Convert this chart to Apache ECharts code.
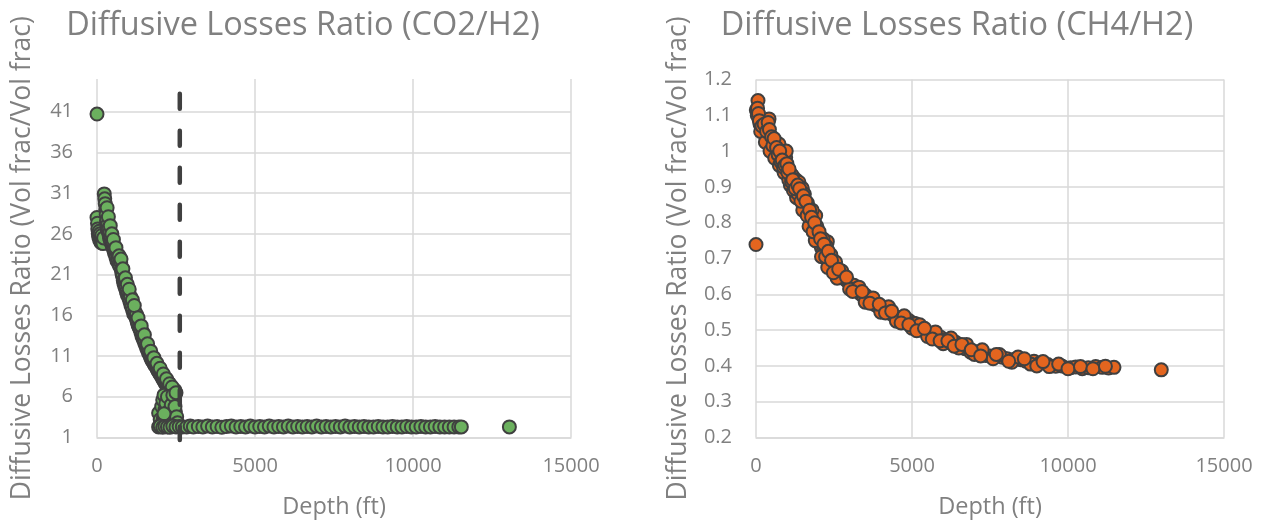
<!DOCTYPE html>
<html>
<head>
<meta charset="utf-8">
<script src="https://cdn.jsdelivr.net/npm/echarts@6/dist/echarts.min.js"></script>
<style>
  html, body { margin: 0; padding: 0; background: #ffffff; }
  #chart { width: 1265px; height: 523px; }
</style>
</head>
<body>
<div id="chart"></div>
<script>
// Diffusive losses ratio vs. depth: CO2/H2 (left) and CH4/H2 (right)

const titles = ['Diffusive Losses Ratio (CO2/H2)', 'Diffusive Losses Ratio (CH4/H2)'];
const xAxisName = 'Depth (ft)';
const yAxisName = 'Diffusive Losses Ratio (Vol frac/Vol frac)';

// [depth ft, CO2/H2 ratio]
const co2h2 = [
  [0, 40.7],
  [0, 28.0], [15, 27.3], [25, 26.6], [40, 26.0], [55, 25.6], [70, 26.3], [85, 25.2],
  [100, 26.0], [115, 25.4], [130, 24.9], [150, 25.8], [170, 25.1], [190, 24.8], [210, 25.5],
  [230, 30.9], [245, 30.3], [260, 29.7], [275, 29.0], [290, 28.4], [300, 27.6], [315, 26.9],
  [330, 26.4], [345, 27.2], [360, 26.6], [380, 25.9], [395, 25.5], [410, 26.2], [430, 25.0],
  [450, 25.6], [470, 24.7], [490, 24.4], [510, 24.9], [530, 24.0], [555, 23.6], [580, 23.9],
  [600, 23.1], [630, 22.7], [660, 22.9], [690, 22.3], [720, 22.0], [750, 22.5], [770, 21.6],
  [790, 21.1], [810, 20.8], [830, 20.3], [850, 19.9], [875, 19.6], [900, 19.3], [930, 18.9],
  [960, 18.5], [990, 18.8], [1010, 18.1], [1040, 17.7], [1070, 17.3], [1100, 17.0], [1130, 16.6],
  [1160, 16.2], [1190, 16.0], [1210, 16.4], [1240, 15.6], [1270, 15.2], [1300, 14.8], [1330, 14.5],
  [1360, 14.3], [1390, 13.9], [1420, 13.5], [1450, 13.2], [1480, 12.9], [1510, 12.6], [1540, 12.3],
  [1570, 12.0], [1600, 11.7], [1630, 11.4], [1660, 11.2], [1690, 10.9], [1720, 10.6], [1750, 10.4],
  [1780, 10.2], [1810, 10.0], [1840, 9.8], [1870, 9.7], [1900, 9.4], [1930, 9.2], [1960, 9.0],
  [1990, 8.8], [2020, 8.6], [2050, 8.5], [2080, 8.2], [2110, 8.0], [2140, 7.8], [2170, 7.6],
  [2200, 7.4], [2230, 7.2], [2260, 7.0], [2290, 6.9], [2320, 6.7], [2400, 6.6], [2468, 6.8],
  [650, 23.5], [880, 20.4], [1060, 18.3], [1250, 16.1], [1450, 13.9], [1650, 11.8], [1850, 10.3],
  [2050, 9.0], [2250, 7.8],
  [320, 29.2], [360, 28.1], [420, 27.0], [470, 26.0], [520, 25.3], [600, 24.3], [700, 23.3],
  [760, 22.9], [820, 21.7], [900, 20.6], [960, 19.8], [1020, 19.2], [1120, 17.9], [1180, 17.2],
  [1300, 15.7], [1400, 14.7], [1500, 13.6], [1600, 12.5], [1700, 11.6], [1800, 10.8], [1900, 10.1],
  [2000, 9.5], [2100, 8.8], [2200, 8.2], [2300, 7.6], [2380, 7.2], [2450, 5.8], [2480, 4.2],
  [1950, 4.0], [2000, 3.2], [2047, 4.8], [2080, 5.6], [2100, 3.4], [2120, 6.2], [2150, 4.4],
  [2180, 5.2], [2200, 2.9], [2230, 6.0], [2260, 4.1], [2310, 4.4], [2350, 5.0], [2400, 6.2],
  [2430, 3.8], [2468, 4.8], [2500, 6.5], [2521, 3.55], [2550, 2.8], [2050, 2.7], [2120, 3.9],
  [1950, 2.3], [2000, 2.4], [2080, 2.25], [2150, 2.35], [2230, 2.3], [2310, 2.25], [2400, 2.4],
  [2500, 2.3], [2600, 2.35], [2700, 2.3], [2838, 2.3], [2950, 2.4], [3050, 2.3], [3206, 2.35],
  [3350, 2.3], [3500, 2.4], [3650, 2.3], [3800, 2.35], [3950, 2.25], [4100, 2.35], [4250, 2.4],
  [4400, 2.3], [4550, 2.35], [4700, 2.3], [4850, 2.4], [5000, 2.3], [5150, 2.35], [5300, 2.3],
  [5450, 2.4], [5600, 2.3], [5750, 2.35], [5900, 2.3], [6050, 2.4], [6200, 2.3], [6350, 2.35],
  [6500, 2.3], [6650, 2.35], [6800, 2.3], [6950, 2.4], [7100, 2.3], [7250, 2.35], [7400, 2.3],
  [7550, 2.35], [7700, 2.3], [7850, 2.4], [8000, 2.3], [8150, 2.35], [8300, 2.3], [8450, 2.35],
  [8600, 2.3], [8750, 2.3], [8900, 2.35], [9050, 2.3], [9200, 2.3], [9350, 2.35], [9500, 2.3],
  [9650, 2.3], [9800, 2.35], [9950, 2.3], [10100, 2.3], [10250, 2.35], [10400, 2.3], [10550, 2.3],
  [10700, 2.35], [10850, 2.3], [11000, 2.3], [11150, 2.3], [11300, 2.3], [11450, 2.3], [11530, 2.3],
  [13050, 2.3]
];

// [depth ft, CH4/H2 ratio]
const ch4h2 = [
  [0, 0.739],
  [10, 1.115], [64, 1.141], [96, 1.09], [40, 1.10], [130, 1.075], [170, 1.08], [200, 1.06],
  [240, 1.065], [280, 1.05], [320, 1.04], [362, 1.067], [417, 1.09], [450, 1.045], [480, 1.025],
  [522, 1.03], [560, 1.01], [600, 1.02], [640, 0.995], [690, 1.005], [737, 1.02], [780, 0.98],
  [820, 0.99], [860, 0.965], [900, 0.975], [952, 0.983], [969, 1.0], [1000, 0.95], [1040, 0.945],
  [1080, 0.93], [1120, 0.935], [1164, 0.932], [1200, 0.91], [1240, 0.905], [1280, 0.92],
  [1320, 0.895], [1378, 0.913], [1420, 0.88], [1460, 0.87], [1484, 0.896], [1538, 0.859],
  [1580, 0.85], [1620, 0.845], [1660, 0.83], [1700, 0.82], [1753, 0.806], [1800, 0.80],
  [1850, 0.79], [1913, 0.82], [1950, 0.77], [1966, 0.764], [2000, 0.75], [2050, 0.74],
  [2100, 0.73], [2150, 0.72], [2200, 0.715], [2286, 0.747], [2286, 0.708], [2350, 0.695],
  [2394, 0.687], [2446, 0.68], [2500, 0.672], [2560, 0.665], [2620, 0.66], [2680, 0.655],
  [2740, 0.65], [2800, 0.645], [2853, 0.643], [2920, 0.637], [2990, 0.63], [3060, 0.625],
  [3141, 0.625], [3200, 0.615], [3280, 0.607], [3360, 0.60], [3440, 0.595], [3516, 0.597],
  [3600, 0.588], [3700, 0.58], [3800, 0.572], [3900, 0.566], [4000, 0.56], [4100, 0.556],
  [4208, 0.555], [4300, 0.547], [4420, 0.54], [4550, 0.535], [4680, 0.53], [4800, 0.525],
  [4904, 0.527], [5000, 0.515], [5064, 0.519], [5118, 0.518], [5200, 0.505], [5320, 0.50],
  [5450, 0.497], [5560, 0.49], [5680, 0.485], [5800, 0.48], [5920, 0.48], [6050, 0.472],
  [6200, 0.465], [6400, 0.466], [6550, 0.455], [6700, 0.448], [6881, 0.438], [7000, 0.44],
  [7150, 0.435], [7361, 0.429], [7500, 0.428], [7650, 0.425], [7895, 0.424], [8050, 0.42],
  [8250, 0.418], [8484, 0.417], [8650, 0.413], [8910, 0.413], [9100, 0.408], [9350, 0.404],
  [9606, 0.399], [9800, 0.40], [10087, 0.395], [10250, 0.397], [10458, 0.392], [10650, 0.395],
  [10888, 0.398], [11100, 0.396], [11300, 0.394], [11474, 0.396],
  [1100, 0.905], [1300, 0.87], [1500, 0.835], [1700, 0.79], [1900, 0.75], [2100, 0.705],
  [2300, 0.675], [2600, 0.645], [3000, 0.615], [3500, 0.578], [4000, 0.55], [4500, 0.525],
  [5000, 0.505], [5500, 0.482], [6000, 0.462], [6500, 0.45], [7000, 0.432], [7600, 0.42],
  [8200, 0.41], [8800, 0.405], [9400, 0.398],
  [150, 1.055], [300, 1.025], [450, 1.0], [600, 0.98], [750, 0.96], [900, 0.94], [1050, 0.92],
  [1200, 0.89], [1350, 0.88], [1550, 0.88], [1650, 0.855], [1800, 0.835], [1950, 0.79],
  [2150, 0.755], [2250, 0.735], [2400, 0.71], [2550, 0.69], [2750, 0.665], [3300, 0.62],
  [3750, 0.59], [4250, 0.565], [4750, 0.54], [5250, 0.515], [5750, 0.495], [6250, 0.478],
  [6750, 0.46], [7250, 0.445], [7800, 0.432], [8400, 0.425],
  [50, 1.12], [80, 1.105], [110, 1.085], [190, 1.07], [260, 1.075], [340, 1.055], [390, 1.08],
  [430, 1.06], [500, 1.04], [540, 1.015], [580, 1.035], [660, 1.01], [710, 0.99], [760, 1.0],
  [800, 0.97], [840, 0.975], [880, 0.955], [930, 0.96], [990, 0.965], [1020, 0.94], [1060, 0.95],
  [1140, 0.915], [1180, 0.92], [1260, 0.895], [1340, 0.905], [1400, 0.895], [1440, 0.86],
  [1520, 0.875], [1600, 0.86], [1640, 0.82], [1720, 0.835], [1780, 0.815], [1830, 0.775],
  [1880, 0.80], [2020, 0.775], [2070, 0.755], [2180, 0.74], [2230, 0.705], [2320, 0.72],
  [2420, 0.695], [2480, 0.66], [2650, 0.67], [2900, 0.648], [3100, 0.608], [3400, 0.608],
  [3650, 0.575], [3950, 0.572], [4150, 0.548], [4350, 0.553], [4650, 0.52], [4900, 0.515],
  [5150, 0.498], [5400, 0.505], [5650, 0.475], [5900, 0.47], [6150, 0.47], [6350, 0.455],
  [6600, 0.46], [6900, 0.445], [7200, 0.428], [7700, 0.432], [8100, 0.413], [8600, 0.42],
  [9000, 0.40], [9200, 0.412], [9700, 0.405], [10000, 0.392], [10400, 0.398], [10800, 0.392],
  [11200, 0.399],
  [12990, 0.389]
];

// vertical dashed marker on the CO2/H2 panel
const markerDepth = 2620;
const markerSpan = [43.2, 0.7];

const textGray = '#808080';
const gridGray = '#d9d9d9';
const fontFamily = '"Open Sans", "Noto Sans", sans-serif';

function xAxisFor(gridIndex) {
  return {
    gridIndex: gridIndex, type: 'value', min: 0, max: 15000, interval: 5000,
    name: xAxisName, nameLocation: 'middle', nameGap: 58,
    nameTextStyle: { color: textGray, fontSize: 23.5, fontFamily: fontFamily },
    axisLine: { show: true, lineStyle: { color: gridGray, width: 1.5 } },
    axisTick: { show: false },
    axisLabel: { color: textGray, fontSize: 20, fontFamily: fontFamily, margin: 19,
                 formatter: function (v) { return String(v); } },
    splitLine: { show: true, lineStyle: { color: gridGray, width: 1.5 } }
  };
}

function yAxisFor(gridIndex, min, max, interval, gap, margin, hideTop) {
  return {
    gridIndex: gridIndex, type: 'value', min: min, max: max, interval: interval,
    name: yAxisName, nameLocation: 'middle', nameGap: gap, nameRotate: 90,
    nameTextStyle: { color: textGray, fontSize: 26.5, fontFamily: fontFamily },
    axisLine: { show: false },
    axisTick: { show: false },
    axisLabel: { color: textGray, fontSize: 20, fontFamily: fontFamily, margin: margin,
                 showMaxLabel: !hideTop },
    splitLine: { show: true, showMaxLine: !hideTop, lineStyle: { color: gridGray, width: 1.5 } }
  };
}

function scatterSeries(idx, data, fill) {
  return {
    type: 'scatter', xAxisIndex: idx, yAxisIndex: idx, data: data,
    symbol: 'circle', symbolSize: 13,
    itemStyle: { color: fill, borderColor: '#404040', borderWidth: 2, opacity: 1 },
    emphasis: { disabled: true }
  };
}

const chart = echarts.init(document.getElementById('chart'), null, { renderer: 'canvas' });
chart.setOption({
  animation: false,
  backgroundColor: '#ffffff',
  title: [
    { text: titles[0], left: 298, top: 4, textAlign: 'center',
      textStyle: { color: textGray, fontSize: 32.5, fontWeight: 'normal', fontFamily: fontFamily } },
    { text: titles[1], left: 952, top: 4, textAlign: 'center',
      textStyle: { color: textGray, fontSize: 32.5, fontWeight: 'normal', fontFamily: fontFamily } }
  ],
  grid: [
    { left: 97, right: 694, top: 79, bottom: 85.5, containLabel: false, outerBoundsMode: 'none' },
    { left: 756, right: 41, top: 79.5, bottom: 85.5, containLabel: false, outerBoundsMode: 'none' }
  ],
  xAxis: [xAxisFor(0), xAxisFor(1)],
  yAxis: [
    yAxisFor(0, 1, 45, 5, 61, 24, true),
    yAxisFor(1, 0.2, 1.2, 0.1, 64, 24, false)
  ],
  series: [
    {
      type: 'line', xAxisIndex: 0, yAxisIndex: 0, clip: false,
      data: [[markerDepth, markerSpan[0]], [markerDepth, markerSpan[1]]],
      symbol: 'none', silent: true,
      lineStyle: { color: '#404040', width: 4.5, type: [15, 22], cap: 'round' }
    },
    scatterSeries(0, co2h2, '#6BB05E'),
    scatterSeries(1, ch4h2, '#E3651F')
  ]
});
</script>
</body>
</html>
